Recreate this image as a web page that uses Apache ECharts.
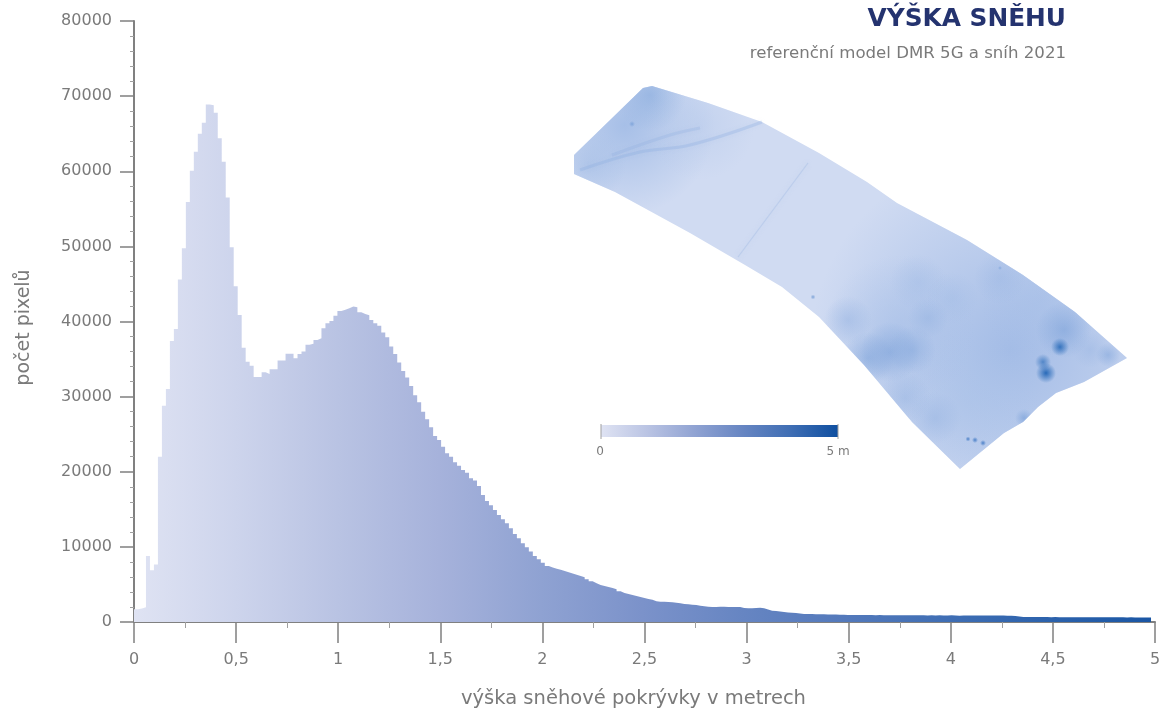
<!DOCTYPE html>
<html><head><meta charset="utf-8">
<style>html,body{margin:0;padding:0;background:#fff}#c{width:1169px;height:711px}</style>
<script src="https://cdn.jsdelivr.net/npm/echarts@6/dist/echarts.min.js"></script>
</head><body><div id="c"></div>
<script>
// histogram of snow depth: 8-bit raster bins covering 0..5 m
const binCount = 256;
const pixelCounts = [
 1700,1800,1950,8800,6900,7650,22000,28800,31000,37400,
 39000,45600,49750,55900,60050,62600,65000,66450,68900,68800,
 67800,64400,61250,56500,49900,44700,40850,36500,34650,34100,
 32600,32600,33250,33000,33650,33650,34800,34800,35700,35700,
 35110,35690,36000,36890,37030,37550,37770,39100,39770,40080,
 40750,41410,41550,41770,41990,41900,41240,41010,40840,40210,
 39770,39420,38530,37910,36660,35690,34530,33420,32530,31430,
 30190,29250,28000,26990,25920,24770,24240,23340,22460,22010,
 21270,20810,20240,19880,19130,18820,18110,16910,16110,15530,
 14910,14250,13670,13130,12470,11720,11140,10470,9940,9370,
 8790,8340,7900,7460,7240,7100,6970,6790,6610,6440,
 6300,6130,5950,5680,5410,5150,4930,4790,4660,4530,
 4350,4080,3860,3730,3600,3460,3330,3200,3060,2970,
 2750,2700,2700,2660,2620,2570,2480,2400,2350,2300,
 2260,2170,2090,2040,2000,2000,2040,2040,2000,2000,
 2000,2000,1860,1820,1820,1860,1910,1820,1680,1510,
 1450,1400,1340,1280,1240,1190,1130,1080,1060,1060,
 1040,1030,1020,1010,1000,990,970,950,940,930,
 930,920,920,930,920,910,920,910,900,900,
 910,900,900,890,900,890,900,890,880,890,
 880,890,880,880,890,880,840,870,880,880,
 870,870,860,870,860,860,850,850,840,830,
 800,720,680,670,660,660,650,650,650,640,
 650,640,640,640,630,640,630,630,630,630,
 620,630,620,620,620,620,620,620,610,620,
 610,610,610,610,600
];
const rampStops = ['#dfe3f3','#cdd4ec','#b9c3e3','#a6b2db','#8fa2d2','#7b92ca','#6685c2','#5379bb','#3f6eb4','#2c62ac','#1a56a4'];
const legendStops = ['#dfe3f3','#b9c3e3','#8fa2d2','#6685c2','#3f6eb4','#0f4fa0'];
const xLabelSeparator = ',';
const titleText = 'VÝŠKA SNĚHU';
const subtitleText = 'referenční model DMR 5G a sníh 2021';
const xAxisName = 'výška sněhové pokrývky v metrech';
const yAxisName = 'počet pixelů';

const stepData = pixelCounts.map((v,i)=>[i*5/binCount, v]);
stepData.push([pixelCounts.length*5/binCount, pixelCounts[pixelCounts.length-1]]);
const stops = a => a.map((c,i)=>({offset:i/(a.length-1),color:c}));

// inset map (decorative raster picture approximated by a shape and soft blobs)
const mapOutline = [[574,155],[574,174],[615,192],[690,233],[745,265],[782,287],[819,317],[864,365],[912,422],[960,469],[1004,433],[1023,422],[1038,407],[1056,393],[1084,382],[1127,358],[1075,312],[1023,275],[967,240],[897,203],[867,182],[819,153],[762,122],[708,103],[652,86],[643,88]];
const mapBlobs = [
 [1010,350,200,'#9fb9e5',.9],[900,330,75,'#a2bce6',.5],[1040,300,60,'#a2bce6',.4],[970,400,70,'#a9c2e8',.4],
 [625,125,90,'#a2bce6',.9],[650,95,36,'#8badde',.65],[590,165,36,'#a6bfe6',.6],[700,125,55,'#b7caeb',.5],
 [868,358,26,'#86a9dd',.6],[890,352,30,'#7ea3da',.6],[912,350,24,'#86a9dd',.5],[848,320,24,'#9ab6e3',.55],[928,318,20,'#98b5e2',.55],
 [918,282,28,'#a3bde6',.45],[952,298,26,'#a3bde6',.45],[1000,278,26,'#9db8e4',.5],[1064,330,28,'#7ea3da',.6],
 [1060,347,9,'#2a6cba',.9],[1046,373,10,'#2065b6',.95],[1043,362,8,'#2a6cba',.7],[1108,355,12,'#86a9dd',.6],[1090,350,18,'#9ab6e3',.45],
 [1024,418,9,'#7ea3da',.7],[905,398,26,'#98b5e2',.5],[935,418,26,'#98b5e2',.5],[975,440,3,'#3f78c4',.9],[983,443,3,'#3f78c4',.9],
 [968,439,2.5,'#3f78c4',.9],[813,297,2.5,'#5a8bcc',.7],[632,124,3,'#6f9ad6',.7],[1000,268,2,'#6f9ad6',.6]
];
const mapFaintLines = [
 {pts:[[580,170],[640,152],[690,145],[762,122]],w:3,c:'rgba(140,172,224,0.30)'},
 {pts:[[612,155],[670,135],[700,128]],w:3,c:'rgba(140,172,224,0.25)'},
 {pts:[[808,163],[738,257]],w:1.2,c:'rgba(170,192,232,0.5)'}
];

const ink = '#7a7a7a', axisInk = '#808080', font = '"DejaVu Sans",Verdana,sans-serif';
const chart = echarts.init(document.getElementById('c'),null,{renderer:'canvas'});
function hexA(h,a){const n=parseInt(h.slice(1),16);return `rgba(${n>>16},${(n>>8)&255},${n&255},${a})`;}
const mapGraphics = [
 {type:'polygon',z:1,shape:{points:mapOutline},style:{fill:'#d0dbf2'}},
 ...mapBlobs.map(b=>({type:'polygon',z:2,shape:{points:mapOutline},style:{fill:new echarts.graphic.RadialGradient(b[0],b[1],b[2],[
   {offset:0,color:hexA(b[3],b[4])},{offset:.5,color:hexA(b[3],b[4]*.5)},{offset:1,color:hexA(b[3],0)}],true)}})),
 ...mapFaintLines.map(l=>({type:'polyline',z:3,shape:{points:l.pts,smooth:.4},style:{fill:null,stroke:l.c,lineWidth:l.w,shadowBlur:5,shadowColor:l.c}}))
];

chart.setOption({
 animation:false,
 grid:{left:134,right:14,top:21,bottom:89,containLabel:false,outerBoundsMode:'none'},
 xAxis:{type:'value',min:0,max:5,interval:.5,
  name:xAxisName,nameLocation:'middle',nameGap:67,nameTextStyle:{color:ink,fontSize:19.5,fontFamily:font,padding:[0,22,0,0]},
  axisLine:{show:true,onZero:false,lineStyle:{color:axisInk,width:2}},
  axisTick:{show:true,length:21,lineStyle:{color:axisInk,width:1.5}},
  minorTick:{show:true,splitNumber:2,length:6,lineStyle:{color:'#a0a0a0',width:1}},
  splitLine:{show:false},minorSplitLine:{show:false},
  axisLabel:{color:ink,fontSize:16,fontFamily:font,margin:30,hideOverlap:false,showMinLabel:true,showMaxLabel:true,
   formatter:v=>String(v).replace('.',xLabelSeparator)}},
 yAxis:{type:'value',min:0,max:80000,interval:10000,
  name:yAxisName,nameLocation:'middle',nameGap:100,nameTextStyle:{color:ink,fontSize:19,fontFamily:font,padding:[0,12,0,0]},
  axisLine:{show:true,onZero:false,lineStyle:{color:axisInk,width:2}},
  axisTick:{show:true,length:14,lineStyle:{color:axisInk,width:1.5}},
  minorTick:{show:true,splitNumber:5,length:4,lineStyle:{color:'#a0a0a0',width:1}},
  splitLine:{show:false},minorSplitLine:{show:false},
  axisLabel:{color:ink,fontSize:16,fontFamily:font,margin:22,formatter:v=>String(v)}},
 series:[{type:'line',step:'end',data:stepData,showSymbol:false,symbol:'none',clip:false,z:1,
  lineStyle:{width:0,opacity:0},
  areaStyle:{opacity:1,color:new echarts.graphic.LinearGradient(0,0,1,0,stops(rampStops))}}],
 graphic:[...mapGraphics,
  {type:'text',z:5,style:{text:titleText,x:1066,y:20,align:'right',verticalAlign:'middle',fill:'#24336f',font:'bold 24.8px '+font}},
  {type:'text',z:5,style:{text:subtitleText,x:1066,y:54,align:'right',verticalAlign:'middle',fill:ink,font:'16.6px '+font}},
  {type:'rect',z:5,shape:{x:601,y:425,width:237,height:12},style:{fill:new echarts.graphic.LinearGradient(0,0,1,0,stops(legendStops))}},
  {type:'line',z:6,shape:{x1:601,y1:424,x2:601,y2:439},style:{stroke:'#a0a0a0',lineWidth:1}},
  {type:'line',z:6,shape:{x1:838,y1:424,x2:838,y2:439},style:{stroke:'#a0a0a0',lineWidth:1}},
  {type:'text',z:6,style:{text:'0',x:600,y:452,align:'center',verticalAlign:'middle',fill:ink,font:'12px '+font}},
  {type:'text',z:6,style:{text:'5 m',x:838,y:452,align:'center',verticalAlign:'middle',fill:ink,font:'12px '+font}}
 ]
});
</script></body></html>
